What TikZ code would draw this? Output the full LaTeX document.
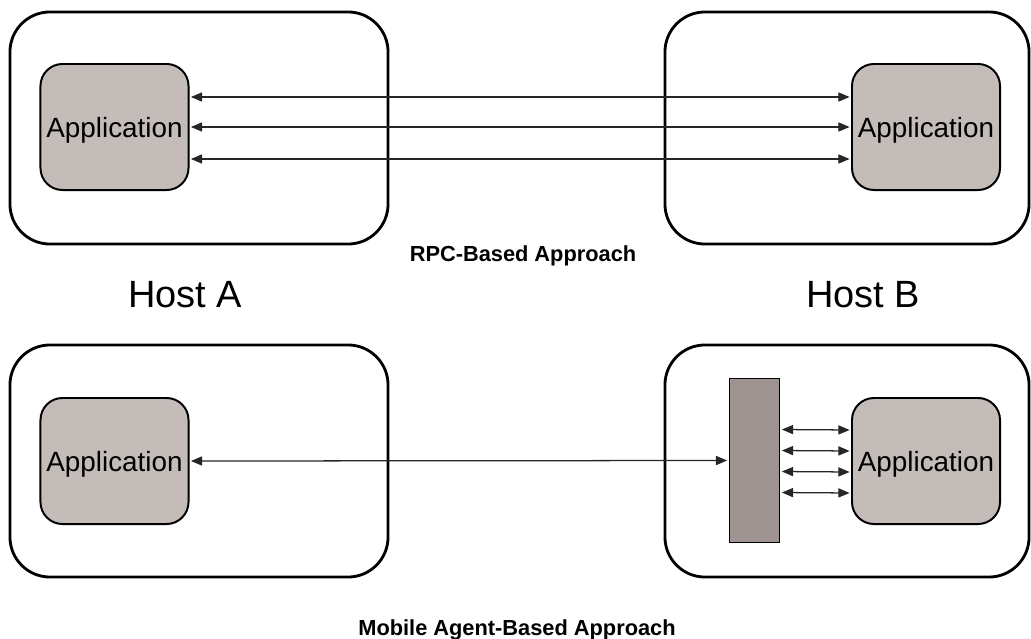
\documentclass[tikz,border=0pt]{standalone}
\usepackage{fontspec}
\setmainfont{Liberation Sans}
\usetikzlibrary{arrows.meta}
\definecolor{appgray}{HTML}{C4BCB9}
\definecolor{agentgray}{HTML}{9E9390}
\tikzset{
	host/.style={draw, line width=2pt, rounded corners=1cm, inner sep=0pt, minimum width=9.45cm, minimum height=5.8cm},
	app/.style={draw, line width=1.4pt, fill=appgray, rounded corners=0.55cm, inner sep=0pt, minimum width=3.7cm, minimum height=3.15cm, font=\fontsize{19.8}{22}\selectfont, text depth=0pt},
	agentbox/.style={draw, line width=0.8pt, fill=agentgray, inner sep=0pt, minimum width=1.27cm, minimum height=4.12cm},
	conn/.style={line width=0.9pt, draw=black!85, {Triangle[length=8pt,width=6.5pt]}-{Triangle[length=8pt,width=6.5pt]}, shorten <=1pt, shorten >=1pt},
	hostlabel/.style={font=\fontsize{27}{30}\selectfont, anchor=base},
	caption/.style={font=\bfseries\fontsize{15.5}{18}\selectfont, anchor=base}
}
\begin{document}
\begin{tikzpicture}[x=0.025cm, y=-0.025cm]
	\useasboundingbox (0,0) rectangle (1031,638);
	% RPC-based approach
	\node[host] (hostA1) at (199,128) {};
	\node[host, minimum width=9.1cm] (hostB1) at (847,128) {};
	\node[app] (appA1) at (114.5,127) {Application};
	\node[app] (appB1) at (926,127) {Application};
	\foreach \d in {-30,0,32}{
		\draw[conn] ([yshift=-\d*0.025cm]appA1.east) -- ([yshift=-\d*0.025cm]appB1.west);
	}
	\node[caption] (rpc) at (523,261) {RPC-Based Approach};
	\node[hostlabel] (nameA) at (185,307) {Host A};
	\node[hostlabel] (nameB) at (863,307) {Host B};
	% mobile agent approach
	\node[host] (hostA2) at (199,461) {};
	\node[host, minimum width=9.1cm] (hostB2) at (847,461) {};
	\node[app] (appA2) at (114.5,461) {Application};
	\node[app] (appB2) at (926,461) {Application};
	\node[agentbox] (agent) at (754.5,460.5) {};
	\draw[conn] (appA2.east) -- (agent.west);
	\foreach \d in {-31,-10,11,32}{
		\draw[conn] ([yshift=-\d*0.025cm]agent.east) -- ([yshift=-\d*0.025cm]appB2.west);
	}
	\node[caption] (mobile) at (517,635) {Mobile Agent-Based Approach};
\end{tikzpicture}
\end{document}
